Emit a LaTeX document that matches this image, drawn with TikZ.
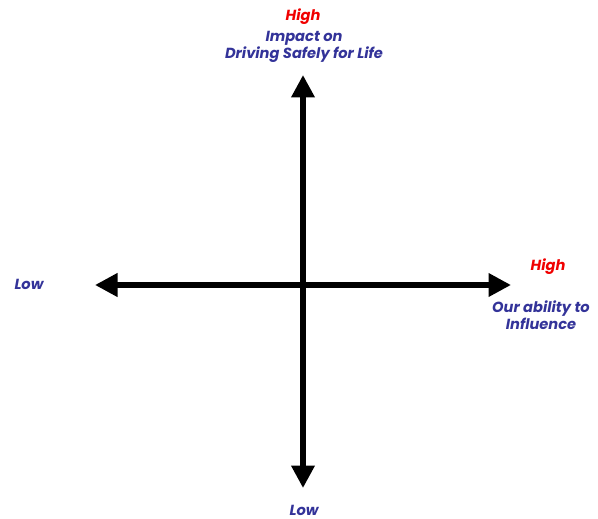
\documentclass[tikz,border=0pt]{standalone}
\usepackage{fontspec}
\setmainfont{Poppins}
\usetikzlibrary{arrows.meta}
\definecolor{labelblue}{RGB}{51,51,153}
\definecolor{labelred}{RGB}{240,0,0}

\begin{document}
\begin{tikzpicture}[x=0.025cm,y=-0.025cm]

		\tikzset{every node/.style={font=\fontsize{10.4}{12.2}\selectfont\bfseries\itshape, text=labelblue, align=center, inner sep=1pt},
			hi/.style={text=labelred},
			axis/.style={line width=3.8pt, {Triangle[width=16pt,length=16pt]}-{Triangle[width=16pt,length=16pt]}}}
		\useasboundingbox (0,0) rectangle (598,519);

		% axes
		\coordinate (top) at (303,75);
		\coordinate (bottom) at (303,488);
		\coordinate (left) at (95,285);
		\coordinate (right) at (511,285);
		\draw[axis] (bottom) -- (top);
		\draw[axis] (left) -- (right);

		% vertical axis labels
		\node[hi] (yhigh) at (303,17) {High};
		\node (yname) at (304,47) {Impact on\\Driving Safely for Life};
		\node (ylow) at (304,510) {Low};

		% horizontal axis labels
		\node (xlow) at (29,284) {Low};
		\node[hi] (xhigh) at (548,267) {High};
		\node (xname) at (541,315) {Our ability to\\Influence};

\end{tikzpicture}
\end{document}
